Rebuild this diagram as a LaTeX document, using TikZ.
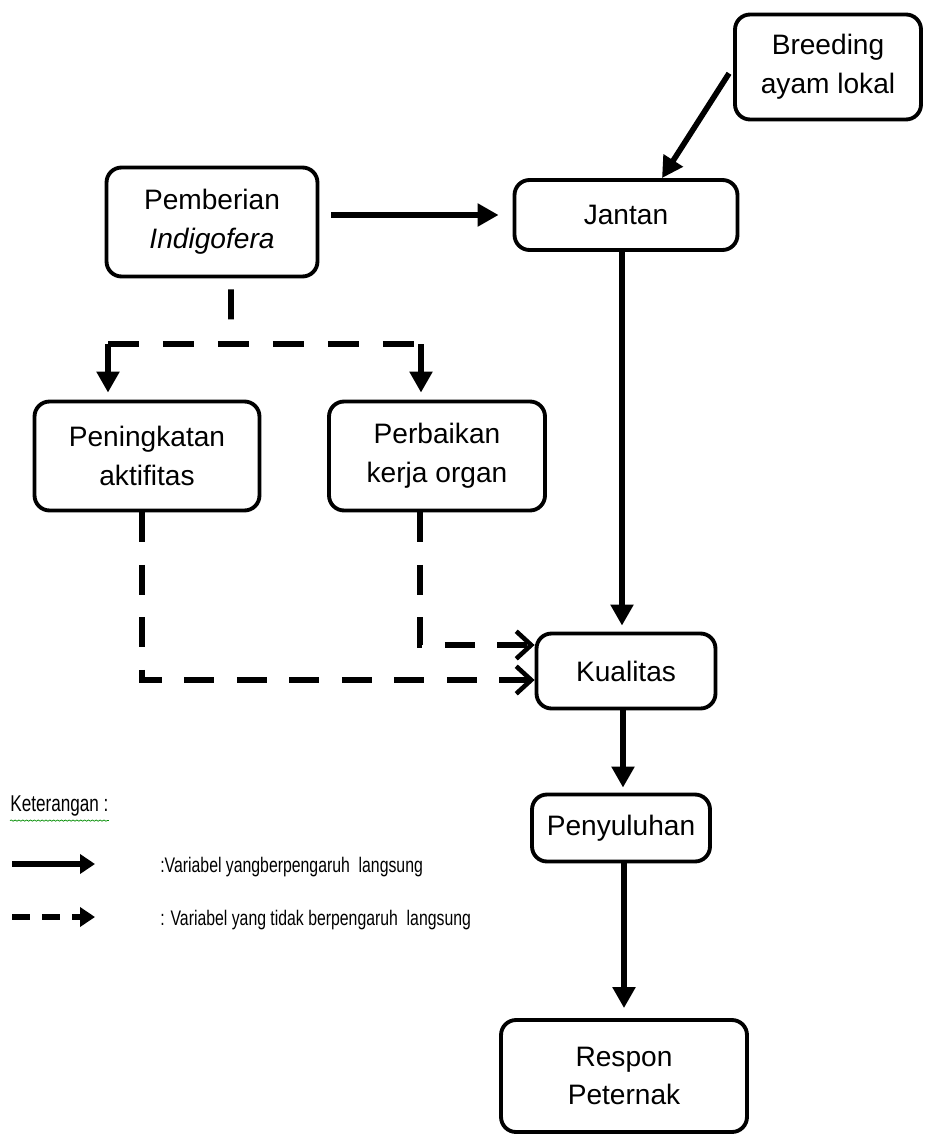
\documentclass[tikz,border=0pt]{standalone}
\usepackage{fontspec}
\setmainfont{Liberation Sans}
\newfontfamily\narrowfont[FakeStretch=0.75]{Liberation Sans}
\usetikzlibrary{positioning,arrows.meta,decorations.pathmorphing}

\begin{document}
\begin{tikzpicture}[
  x=0.02cm, y=-0.02cm,
  font=\fontsize{16}{22}\selectfont,
  tri/.tip={Triangle[length=0.42cm, width=0.44cm]},
  smalltri/.tip={Triangle[length=0.3cm, width=0.38cm]},
  box/.style={draw, line width=2.2pt, rounded corners=0.3cm, align=center, inner sep=0pt},
  arr/.style={-tri, line width=3.2pt},
  dashln/.style={line width=3.2pt, dash pattern=on 0.6cm off 0.45cm},
  openarr/.style={-{Straight Barb[length=0.3cm, width=0.55cm, line width=2.6pt]}, dashln},
  legtxt/.style={font=\narrowfont\fontsize{12}{14}\selectfont, anchor=west, inner sep=0pt},
]
\useasboundingbox (0,0) rectangle (924,1135);

\node[box, minimum width=3.72cm, minimum height=2.1cm] (breed) at (828,67) {Breeding\\ayam lokal};
\node[box, minimum width=4.46cm, minimum height=1.4cm] (jantan) at (626,215) {Jantan};
\node[box, minimum width=4.22cm, minimum height=2.18cm] (pember) at (212,222) {Pemberian\\\textit{Indigofera}};

\node[box, minimum width=4.5cm, minimum height=2.18cm] (pening) at (147,456) {Peningkatan\\aktifitas};
\node[box, minimum width=4.32cm, minimum height=2.18cm] (perbaik) at (437,456) {Perbaikan\\kerja organ};

\node[box, minimum width=3.58cm, minimum height=1.5cm] (kual) at (626,671) {Kualitas};
\node[box, minimum width=3.56cm, minimum height=1.34cm] (penyul) at (621,828) {Penyuluhan};
\node[box, minimum width=4.92cm, minimum height=2.24cm] (respon) at (624,1076) {Respon\\Peternak};

% langsung
\draw[arr, shorten <=0.15cm] (breed.west) -- ([xshift=0.72cm]jantan.north);
\draw[arr, shorten <=0.24cm, shorten >=0.28cm] (pember.east |- jantan.west) -- (jantan.west);
\draw[arr, shorten >=0.12cm] ([xshift=-0.08cm]jantan.south) -- ([xshift=-0.08cm]kual.north);
\draw[arr, shorten >=0.1cm] ([xshift=-0.06cm]kual.south) -- ([xshift=-0.06cm]kual.south |- penyul.north);
\draw[arr, shorten >=0.2cm] (penyul.south -| respon.north) -- (respon.north);

% tidak langsung
\coordinate (split) at (231,344);
\coordinate (lcorn) at (108,344);
\coordinate (rcorn) at (421,344);
\draw[dashln, shorten <=0.22cm] ([xshift=0.38cm]pember.south) -- (split);
\draw[line width=3.2pt, dash pattern=on 0.62cm off 0.48cm] (lcorn) -- (rcorn);
\draw[arr] (lcorn) -- ([xshift=-0.78cm, yshift=0.14cm]pening.north);
\draw[arr] (rcorn) -- ([xshift=-0.32cm, yshift=0.14cm]perbaik.north);
\draw[openarr] ([xshift=-0.1cm]pening.south) |- ([yshift=-0.18cm]kual.west);
\draw[openarr] ([xshift=-0.34cm]perbaik.south) |- ([yshift=0.52cm]kual.west);

% keterangan
\node[legtxt, font=\narrowfont\fontsize{13}{15}\selectfont] (ket) at (10,806) {Keterangan :};
\draw[green!55!black, line width=0.4pt, decorate,
      decoration={snake, amplitude=0.35pt, segment length=2.2pt}]
  ([yshift=-0.08cm]ket.south west) -- ([yshift=-0.08cm]ket.south east);

\coordinate (ls1) at (12,864);
\coordinate (le1) at (95,864);
\coordinate (ls2) at (12,917);
\coordinate (le2) at (95,917);
\draw[-smalltri, line width=3.6pt] (ls1) -- (le1);
\draw[-smalltri, line width=3.6pt, dash pattern=on 0.36cm off 0.24cm] (ls2) -- (le2);

\node[legtxt] (lg1) at (160,867) {:Variabel yangberpengaruh\ \ langsung};
\node[legtxt] (lg2) at (160,920) {: Variabel yang tidak berpengaruh\ \ langsung};
\end{tikzpicture}
\end{document}
